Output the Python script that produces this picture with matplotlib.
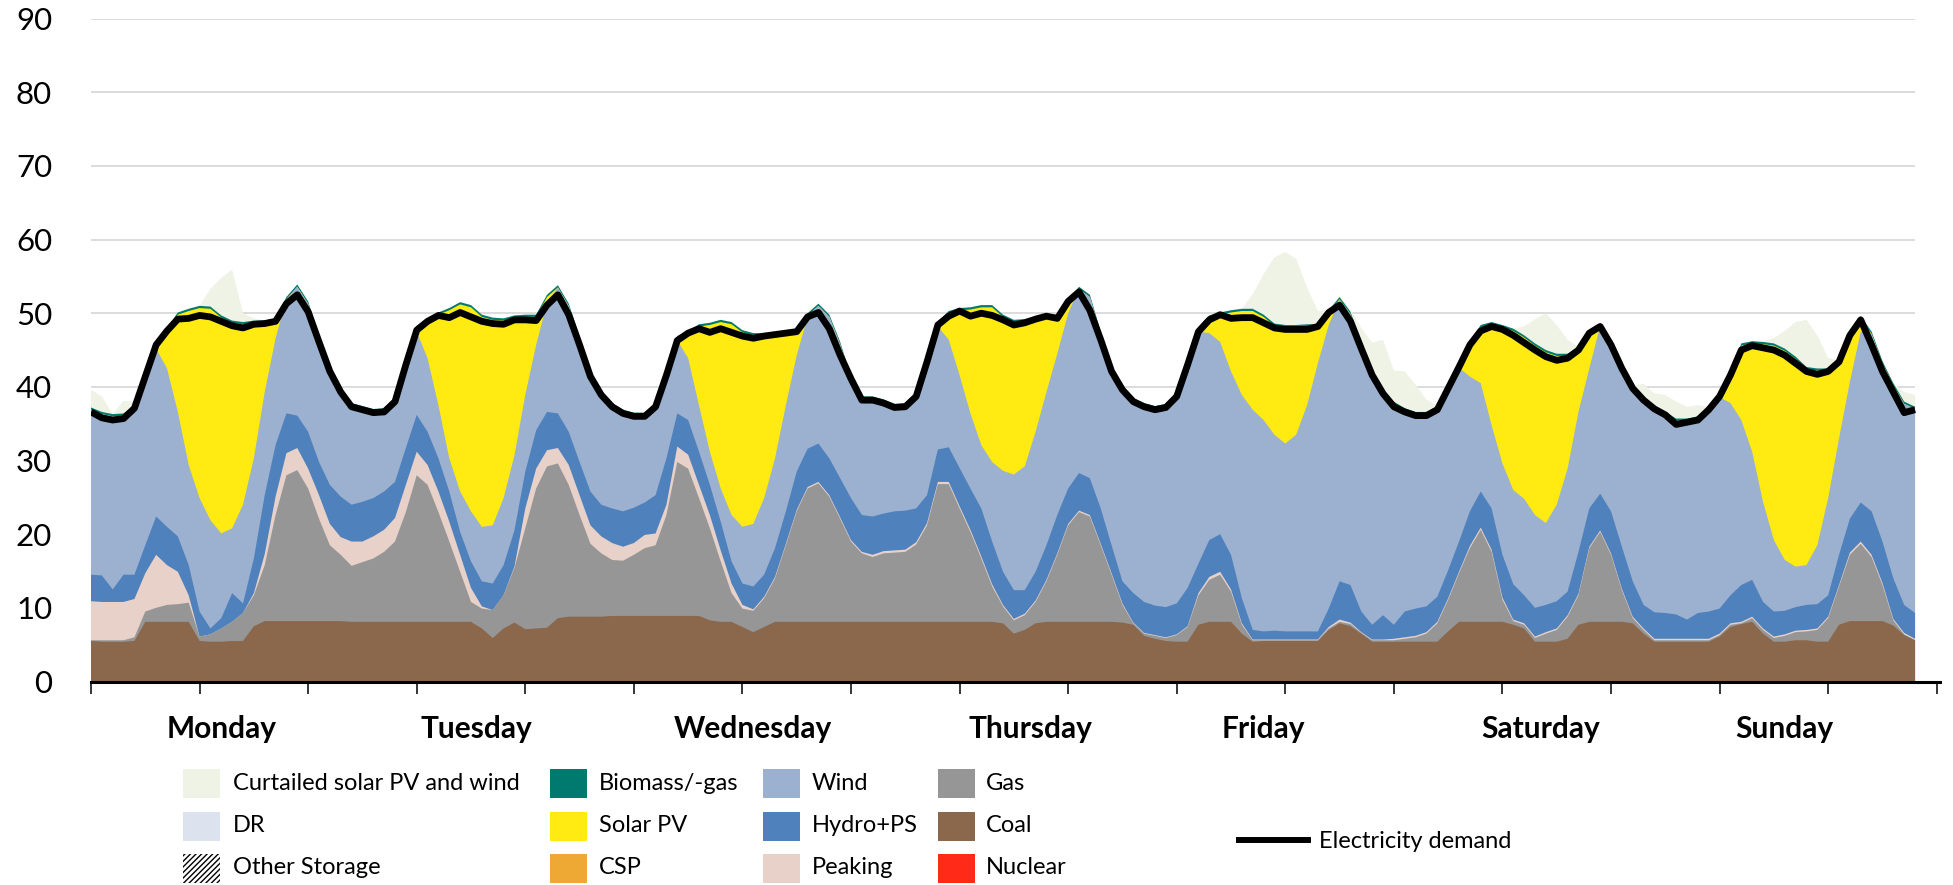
import numpy as np
import matplotlib
matplotlib.use("Agg")
import matplotlib.pyplot as plt
from matplotlib.patches import Rectangle
from matplotlib.lines import Line2D

plt.rcParams['font.family'] = ['Lato', 'DejaVu Sans']

# ---------------------------------------------------------
# Hourly data for one week (Mon 00:00 .. Sun 24:00), GW
# ---------------------------------------------------------

coal = [
    5.5, 5.4, 5.4, 5.4, 5.5, 8.1, 8.1, 8.1, 8.1, 8.1, 5.5, 5.4, 5.4, 5.5, 5.5, 7.5, 8.2, 8.2, 8.2, 8.2, 8.2, 8.2, 8.2, 8.2,
    8.1, 8.1, 8.1, 8.1, 8.1, 8.1, 8.1, 8.1, 8.1, 8.1, 8.1, 8.1, 7.2, 5.9, 7.2, 8.0, 7.1, 7.2, 7.3, 8.6, 8.8, 8.8, 8.8, 8.8,
    8.9, 8.9, 8.9, 8.9, 8.9, 8.9, 8.9, 8.9, 8.9, 8.3, 8.1, 8.1, 7.4, 6.7, 7.4, 8.1, 8.1, 8.1, 8.1, 8.1, 8.1, 8.1, 8.1, 8.1,
    8.1, 8.1, 8.1, 8.1, 8.1, 8.1, 8.1, 8.1, 8.1, 8.1, 8.1, 8.1, 7.9, 6.5, 7.0, 7.9, 8.1, 8.1, 8.1, 8.1, 8.1, 8.1, 8.1, 8.0,
    7.7, 6.2, 5.8, 5.5, 5.4, 5.4, 7.7, 8.1, 8.1, 8.1, 6.5, 5.4, 5.5, 5.5, 5.5, 5.5, 5.5, 5.5, 7.0, 7.9, 7.5, 6.5, 5.4, 5.4,
    5.4, 5.4, 5.4, 5.4, 5.4, 6.8, 8.1, 8.1, 8.1, 8.1, 8.1, 7.7, 7.2, 5.4, 5.4, 5.4, 5.8, 7.7, 8.1, 8.1, 8.1, 8.1, 7.9, 6.5,
    5.4, 5.4, 5.4, 5.4, 5.4, 5.4, 6.1, 7.4, 7.8, 8.1, 6.5, 5.4, 5.4, 5.6, 5.6, 5.4, 5.4, 7.7, 8.2, 8.2, 8.2, 8.2, 7.6, 6.3, 5.6,
]

gas = [
    0.1, 0.2, 0.2, 0.2, 0.5, 1.4, 1.9, 2.3, 2.4, 2.6, 0.6, 1.0, 1.8, 2.6, 3.8, 4.2, 7.6, 14.4, 19.8, 20.5, 18.0, 13.9, 10.3, 9.0,
    7.6, 8.1, 8.6, 9.5, 10.9, 14.9, 19.9, 18.6, 14.9, 10.9, 6.8, 2.7, 2.7, 3.8, 4.5, 7.4, 13.7, 19.0, 21.9, 21.0, 17.9, 13.8, 9.9, 8.6,
    7.6, 7.5, 8.3, 9.2, 9.6, 13.7, 20.9, 20.0, 16.0, 12.5, 8.2, 3.9, 2.5, 2.9, 3.9, 5.9, 10.4, 15.0, 18.1, 18.8, 17.0, 14.0, 10.9, 9.3,
    8.8, 9.3, 9.4, 9.5, 10.5, 13.1, 18.7, 18.7, 15.4, 12.2, 8.6, 4.8, 2.3, 1.8, 2.0, 2.9, 5.5, 9.1, 13.1, 14.9, 14.3, 10.4, 6.4, 2.4,
    0.2, 0.3, 0.4, 0.4, 0.9, 2.0, 4.0, 5.7, 6.4, 4.1, 1.2, 0.2, 0.1, 0.1, 0.1, 0.1, 0.1, 0.1, 0.2, 0.2, 0.3, 0.1, 0.2, 0.2,
    0.2, 0.4, 0.6, 1.1, 2.5, 4.3, 6.6, 10.0, 12.5, 9.5, 3.0, 0.5, 0.5, 0.5, 1.1, 1.6, 3.0, 4.0, 10.0, 12.2, 9.1, 4.3, 0.7, 0.5,
    0.2, 0.2, 0.2, 0.2, 0.2, 0.2, 0.2, 0.3, 0.1, 0.5, 0.5, 0.5, 0.8, 1.1, 1.2, 1.6, 3.2, 5.2, 9.0, 10.5, 8.7, 4.9, 0.7, 0.1, 0.0,
]

peaking = [
    5.3, 5.2, 5.2, 5.2, 5.2, 5.2, 7.2, 5.4, 4.4, 1.0, 0.0, 0.0, 0.0, 0.0, 0.0, 0.3, 1.5, 2.5, 3.0, 3.0, 2.7, 3.2, 2.9, 2.4,
    3.3, 2.8, 3.0, 3.0, 3.2, 3.7, 3.2, 2.7, 2.8, 2.7, 2.3, 1.9, 0.3, 0.0, 0.0, 0.2, 2.7, 2.7, 2.2, 2.1, 2.7, 2.7, 2.5, 2.3,
    2.3, 1.9, 1.6, 1.8, 1.6, 1.4, 2.1, 1.9, 1.8, 1.8, 1.5, 1.3, 0.5, 0.2, 0.2, 0.2, 0.2, 0.2, 0.2, 0.2, 0.2, 0.2, 0.2, 0.2,
    0.3, 0.3, 0.3, 0.3, 0.3, 0.3, 0.3, 0.3, 0.3, 0.3, 0.3, 0.3, 0.2, 0.2, 0.2, 0.2, 0.2, 0.2, 0.2, 0.2, 0.2, 0.2, 0.2, 0.2,
    0.1, 0.1, 0.1, 0.1, 0.1, 0.1, 0.3, 0.4, 0.4, 0.3, 0.2, 0.1, 0.1, 0.1, 0.1, 0.1, 0.1, 0.1, 0.2, 0.3, 0.2, 0.1, 0.1, 0.1,
    0.2, 0.2, 0.2, 0.2, 0.2, 0.2, 0.2, 0.3, 0.3, 0.3, 0.3, 0.2, 0.2, 0.2, 0.2, 0.2, 0.2, 0.2, 0.2, 0.2, 0.2, 0.2, 0.2, 0.2,
    0.2, 0.2, 0.2, 0.2, 0.2, 0.2, 0.2, 0.2, 0.2, 0.2, 0.2, 0.2, 0.2, 0.2, 0.2, 0.2, 0.2, 0.2, 0.3, 0.3, 0.3, 0.3, 0.2, 0.2, 0.2,
]

hydro_ps = [
    3.6, 3.6, 1.7, 3.7, 3.3, 3.8, 5.2, 5.2, 4.8, 4.1, 3.4, 0.8, 1.4, 3.9, 1.3, 4.7, 8.0, 7.0, 5.4, 4.4, 5.0, 4.5, 5.3, 5.5,
    5.0, 5.4, 5.2, 5.2, 4.9, 5.0, 5.0, 4.5, 4.5, 4.1, 3.1, 3.6, 3.4, 3.6, 4.1, 4.9, 5.0, 5.2, 5.2, 4.7, 4.5, 4.5, 4.6, 4.3,
    4.7, 4.8, 4.8, 4.4, 5.2, 6.3, 4.5, 4.7, 4.5, 4.1, 3.9, 3.0, 2.9, 3.1, 3.0, 3.9, 4.4, 5.2, 5.2, 5.2, 5.0, 5.3, 5.7, 5.0,
    5.2, 5.1, 5.3, 5.3, 4.6, 3.8, 4.4, 4.7, 5.2, 5.6, 6.5, 5.8, 4.5, 3.9, 3.2, 3.9, 4.7, 5.2, 4.8, 5.1, 5.0, 4.8, 3.8, 3.0,
    4.0, 4.2, 4.0, 4.1, 4.2, 5.2, 4.0, 5.0, 5.1, 4.7, 3.4, 1.3, 1.1, 1.2, 1.1, 1.1, 1.1, 1.1, 2.5, 5.2, 5.1, 2.8, 2.0, 3.3,
    1.9, 3.5, 3.7, 3.5, 3.4, 3.8, 4.1, 4.7, 4.9, 5.6, 5.8, 4.8, 3.8, 3.9, 3.7, 3.7, 3.2, 5.7, 5.2, 5.0, 5.7, 5.7, 4.8, 3.2,
    3.6, 3.5, 3.3, 2.6, 3.5, 3.7, 3.4, 3.8, 5.0, 5.0, 3.6, 3.4, 3.2, 3.2, 3.4, 3.3, 2.9, 4.1, 4.6, 5.3, 5.9, 5.6, 5.5, 3.8, 3.5,
]

wind = [
    22.4, 21.9, 23.5, 21.6, 22.6, 23.1, 22.8, 21.5, 16.9, 13.6, 15.4, 14.7, 11.5, 8.8, 13.4, 13.6, 14.0, 14.5, 15.5, 17.5, 17.4, 16.9, 15.5, 13.9,
    13.5, 12.7, 11.8, 11.0, 11.1, 11.5, 11.3, 10.0, 7.2, 4.5, 5.5, 6.8, 7.4, 7.9, 9.1, 10.2, 10.4, 11.6, 14.8, 17.1, 17.1, 16.7, 16.0, 15.0,
    14.0, 13.5, 12.6, 11.9, 12.2, 11.5, 9.9, 8.4, 6.3, 4.5, 4.5, 6.3, 7.7, 8.5, 10.4, 12.2, 14.4, 15.8, 17.9, 18.7, 19.2, 18.2, 16.2, 15.8,
    16.0, 15.2, 14.3, 14.3, 15.4, 18.3, 16.7, 14.6, 12.6, 10.2, 8.6, 10.8, 13.7, 15.7, 16.8, 19.0, 20.8, 21.9, 23.8, 25.0, 24.6, 23.7, 24.2, 25.9,
    26.2, 26.7, 26.8, 27.3, 28.3, 30.5, 31.5, 28.1, 26.1, 24.9, 27.6, 29.9, 28.7, 26.6, 25.5, 26.7, 30.7, 36.4, 38.5, 38.3, 36.8, 36.3, 34.1, 30.3,
    30.0, 27.3, 26.4, 26.1, 25.6, 24.9, 23.6, 18.3, 14.7, 11.3, 12.4, 12.8, 13.1, 12.6, 11.1, 13.1, 16.7, 19.0, 19.0, 22.8, 23.0, 24.4, 26.3, 27.9,
    27.8, 27.0, 26.3, 27.0, 26.4, 27.5, 28.7, 26.1, 22.4, 17.4, 13.6, 9.7, 6.9, 5.5, 5.4, 8.0, 13.2, 15.8, 18.6, 23.2, 24.1, 24.2, 26.2, 27.3, 27.7,
]

solar_pv = [
    0, 0, 0, 0, 0, 0, 0.5, 5.2, 13.2, 20.9, 25.8, 28.7, 29.3, 27.9, 24.5, 18.4, 9.4, 2.4, 0, 0, 0, 0, 0, 0,
    0, 0, 0, 0, 0, 0, 0.5, 5.0, 12.3, 20.1, 25.4, 27.7, 28.5, 27.9, 24.1, 18.7, 10.6, 3.8, 0.8, 0, 0, 0, 0, 0,
    0, 0, 0, 0, 0, 0, 0.3, 3.3, 10.7, 17.2, 22.6, 25.9, 26.4, 25.6, 22.1, 16.8, 9.7, 3.0, 0.2, 0, 0, 0, 0, 0,
    0, 0, 0, 0, 0, 0, 0.3, 3.6, 8.8, 14.1, 18.7, 21.0, 20.9, 20.7, 19.7, 15.3, 10.2, 5.0, 1.3, 0, 0, 0, 0, 0,
    0, 0, 0, 0, 0, 0, 0.3, 2.1, 3.7, 8.0, 11.4, 13.4, 14.0, 14.8, 15.8, 14.6, 10.7, 5.0, 1.7, 0, 0, 0, 0, 0,
    0, 0, 0, 0, 0, 0, 0.3, 4.3, 7.6, 13.7, 18.5, 21.6, 21.9, 23.0, 23.2, 20.2, 15.3, 8.5, 4.7, 0, 0, 0, 0, 0,
    0, 0, 0, 0, 0, 0, 0, 3.8, 10.1, 14.7, 21.4, 26.4, 28.4, 28.2, 26.6, 23.7, 17.3, 10.3, 6.0, 1.8, 0, 0, 0, 0, 0,
]

biomass = [
    0.3, 0.3, 0.3, 0.3, 0.3, 0.3, 0.3, 0.3, 0.3, 0.3, 0.3, 0.3, 0.3, 0.3, 0.3, 0.3, 0.3, 0.3, 0.3, 0.3, 0.3, 0.3, 0.3, 0.3,
    0.3, 0.3, 0.3, 0.3, 0.3, 0.3, 0.3, 0.3, 0.3, 0.3, 0.3, 0.3, 0.3, 0.3, 0.3, 0.3, 0.3, 0.3, 0.3, 0.3, 0.3, 0.3, 0.3, 0.3,
    0.3, 0.3, 0.3, 0.3, 0.3, 0.3, 0.3, 0.3, 0.3, 0.3, 0.3, 0.3, 0.3, 0.3, 0.3, 0.3, 0.3, 0.3, 0.3, 0.3, 0.3, 0.3, 0.3, 0.3,
    0.3, 0.3, 0.3, 0.3, 0.3, 0.3, 0.3, 0.3, 0.3, 0.3, 0.3, 0.3, 0.3, 0.3, 0.3, 0.3, 0.3, 0.3, 0.3, 0.3, 0.3, 0.3, 0.3, 0.3,
    0.3, 0.3, 0.3, 0.3, 0.3, 0.3, 0.3, 0.3, 0.3, 0.3, 0.3, 0.3, 0.3, 0.3, 0.3, 0.3, 0.3, 0.3, 0.3, 0.3, 0.3, 0.3, 0.3, 0.3,
    0.3, 0.3, 0.3, 0.3, 0.3, 0.3, 0.3, 0.3, 0.3, 0.3, 0.3, 0.3, 0.3, 0.3, 0.3, 0.3, 0.3, 0.3, 0.3, 0.3, 0.3, 0.3, 0.3, 0.3,
    0.3, 0.3, 0.3, 0.3, 0.3, 0.3, 0.3, 0.3, 0.3, 0.3, 0.3, 0.3, 0.3, 0.3, 0.3, 0.3, 0.3, 0.3, 0.3, 0.3, 0.3, 0.3, 0.3, 0.3, 0.3,
]

curtailed = [
    2.4, 2.1, 0, 1.7, 0.6, 0, 0, 0, 0, 0, 0, 2.4, 5.1, 6.9, 1.2, 0.3, 0, 0, 0, 0, 0, 0, 0, 0,
    0, 0, 0, 0, 0, 0, 0, 0, 0, 0, 0, 0, 0, 0, 0, 0, 0, 0, 0, 0, 0, 0, 0, 0,
    0, 0, 0, 0, 0, 0, 0, 0, 0, 0, 0, 0, 0, 0, 0, 0, 0, 0, 0, 0, 0, 0, 0, 0,
    0, 0, 0, 0, 0, 0, 0, 0, 0, 0, 0, 0, 0, 0, 0, 0, 0, 0, 0, 0, 0, 0, 0, 0,
    0, 0, 0, 0, 0, 0, 0, 0, 0, 0, 0, 2.0, 5.5, 9.0, 9.9, 9.0, 5.0, 1.8, 0, 0, 0.3, 1.9, 3.9, 6.8,
    4.2, 5.0, 3.7, 1.7, 0, 0, 0, 0, 0, 0, 0, 0, 1.2, 3.3, 5.0, 3.9, 1.9, 0, 0, 0, 0, 0, 0, 1.8,
    1.6, 2.3, 2.3, 1.6, 1.5, 0, 0, 0, 0, 0, 0, 0.7, 2.4, 4.7, 6.4, 4.5, 1.4, 0, 0, 0, 0, 0, 0, 1.3, 1.6,
]

demand = [
    36.6, 35.8, 35.5, 35.7, 37.1, 41.4, 45.7, 47.6, 49.2, 49.3, 49.7, 49.5, 48.9, 48.3, 48.0, 48.5, 48.6, 48.9, 51.3, 52.5, 50.2, 46.1, 42.1, 39.3,
    37.3, 36.9, 36.5, 36.6, 38.0, 43.0, 47.7, 48.9, 49.7, 49.4, 50.1, 49.5, 48.9, 48.6, 48.5, 49.1, 49.1, 49.0, 51.1, 52.5, 49.8, 45.7, 41.4, 38.9,
    37.3, 36.4, 36.0, 36.0, 37.3, 41.6, 46.3, 47.3, 47.9, 47.4, 47.9, 47.4, 46.9, 46.6, 46.9, 47.1, 47.3, 47.5, 49.5, 50.1, 47.9, 44.3, 41.1, 38.2,
    38.2, 37.8, 37.2, 37.3, 38.7, 43.4, 48.4, 49.6, 50.3, 49.6, 50.0, 49.7, 49.1, 48.4, 48.7, 49.2, 49.6, 49.3, 51.6, 52.9, 50.4, 46.4, 42.1, 39.6,
    38.0, 37.3, 36.9, 37.2, 38.7, 43.0, 47.5, 49.1, 49.8, 49.3, 49.4, 49.4, 48.7, 48.0, 47.8, 47.8, 47.8, 48.2, 50.1, 51.1, 48.9, 45.2, 41.6, 39.1,
    37.3, 36.6, 36.1, 36.1, 36.9, 39.8, 42.7, 45.7, 47.6, 48.2, 47.8, 47.0, 46.0, 45.0, 44.1, 43.6, 43.9, 45.0, 47.3, 48.2, 45.7, 42.5, 39.8, 38.2,
    37.0, 36.2, 34.9, 35.2, 35.5, 36.9, 38.7, 41.6, 45.0, 45.6, 45.3, 45.0, 44.3, 43.2, 42.1, 41.7, 42.1, 43.4, 47.0, 49.1, 45.7, 42.1, 39.3, 36.5, 36.9,
]

days = ["Monday", "Tuesday", "Wednesday", "Thursday", "Friday", "Saturday", "Sunday"]
day_label_x = [12, 35.5, 61, 86.5, 108, 133.5, 156]

# colours
C_CURT = "#eff3e5"
C_BIO = "#007a6f"
C_WIND = "#9cb0cf"
C_GAS = "#969696"
C_DR = "#dce3ee"
C_SOLAR = "#ffeb12"
C_HYDRO = "#4f81bd"
C_COAL = "#8b674b"
C_CSP = "#eea834"
C_PEAK = "#e7d1c8"
C_NUC = "#ff2a17"

# ---------------------------------------------------------
# Figure
# ---------------------------------------------------------
W, H = 1953, 885
fig = plt.figure(figsize=(W / 100, H / 100), dpi=100)
ax = fig.add_axes([91 / W, 1 - 681.5 / H, (1940 - 91) / W, (681.5 - 18.6) / H])

hours = np.arange(len(demand))

layers = [coal, gas, peaking, hydro_ps, wind, solar_pv, biomass, curtailed]
layer_colors = [C_COAL, C_GAS, C_PEAK, C_HYDRO, C_WIND, C_SOLAR, C_BIO, C_CURT]

# cumulative tops, painted from the top layer down so there are no seams
tops = np.cumsum(np.array(layers, dtype=float), axis=0)
for k in range(len(layers) - 1, -1, -1):
    ax.fill_between(hours, 0, tops[k], facecolor=layer_colors[k], linewidth=0, zorder=2)

ax.plot(hours, demand, color="black", linewidth=4.9, solid_joinstyle="round",
        solid_capstyle="butt", zorder=5)

ax.hlines(np.arange(10, 100, 10), hours[0], hours[-1], colors="#d9d9d9", linewidth=1.3, zorder=1)

ax.set_xlim(0, 170.3)
ax.set_ylim(0, 90)

for s in ["top", "right", "left"]:
    ax.spines[s].set_visible(False)
ax.spines["bottom"].set_linewidth(2.2)
ax.spines["bottom"].set_color("black")
ax.spines["bottom"].set_zorder(6)

ax.set_xticks(np.arange(0, 171, 10))
ax.set_xticklabels([])
ax.tick_params(axis="x", direction="out", length=8.6, width=1.1, color="black")
ax.set_yticks(np.arange(0, 91, 10))
ax.tick_params(axis="y", length=0, pad=28, labelsize=22.5)

for name, xd in zip(days, day_label_x):
    ax.text(xd, -6.4, name, ha="center", va="center", fontsize=21.5, fontweight="bold",
            clip_on=False)

# ---------------------------------------------------------
# Legend, laid out by hand (pixel positions)
# ---------------------------------------------------------
def add_swatch(x, yc, color, hatch=None):
    w, h = 37, 29
    r = Rectangle((x / W, 1 - (yc + h / 2) / H), w / W, h / H, transform=fig.transFigure,
                  facecolor=color, edgecolor="black" if hatch else color,
                  hatch=hatch, linewidth=0)
    fig.add_artist(r)


legend_items = [
    (183, 233, 783, C_CURT, None, "Curtailed solar PV and wind"),
    (183, 233, 826, C_DR, None, "DR"),
    (183, 233, 868, "white", "//////", "Other Storage"),
    (550, 599, 783, C_BIO, None, "Biomass/-gas"),
    (550, 599, 826, C_SOLAR, None, "Solar PV"),
    (550, 599, 868, C_CSP, None, "CSP"),
    (763, 812, 783, C_WIND, None, "Wind"),
    (763, 812, 826, C_HYDRO, None, "Hydro+PS"),
    (763, 812, 868, C_PEAK, None, "Peaking"),
    (938, 986, 783, C_GAS, None, "Gas"),
    (938, 986, 826, C_COAL, None, "Coal"),
    (938, 986, 868, C_NUC, None, "Nuclear"),
]
for sx, tx, yc, col, hatch, label in legend_items:
    add_swatch(sx, yc, col, hatch)
    fig.text(tx / W, 1 - yc / H, label, va="center", ha="left", fontsize=17)

fig.add_artist(Line2D([1239 / W, 1308 / W], [1 - 840 / H, 1 - 840 / H], transform=fig.transFigure,
                      color="black", linewidth=4.3))
fig.text(1319 / W, 1 - 841 / H, "Electricity demand", va="center", ha="left", fontsize=17)

fig.savefig("out.png", dpi=100)
